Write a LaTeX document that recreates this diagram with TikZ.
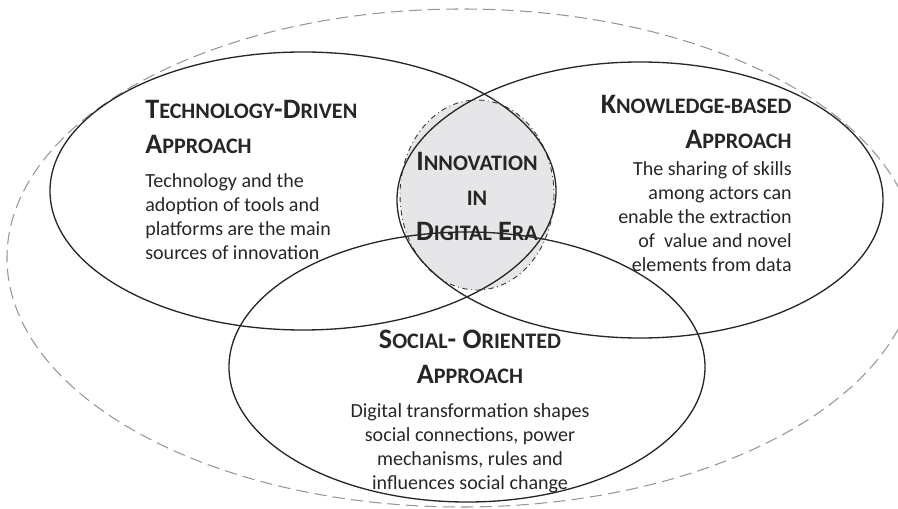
\documentclass[tikz,border=0pt]{standalone}
\usepackage{fontspec}
\setmainfont{Carlito}
\usetikzlibrary{positioning}
\definecolor{lensgray}{RGB}{230,230,232}
\definecolor{dashgray}{RGB}{150,150,150}
\newcommand{\smallcap}[1]{{\fontsize{12.6}{19.9}\selectfont #1}}

\begin{document}
\begin{tikzpicture}[x=0.02cm, y=-0.02cm,
  outline/.style={draw=black!85, line width=0.75pt},
  headtext/.style={font=\fontsize{16}{19.9}\selectfont\bfseries, inner sep=0pt, text=black!85},
  bodytext/.style={font=\fontsize{11.4}{13.65}\selectfont, inner sep=0pt, text=black!85}
]
  \useasboundingbox (0,0) rectangle (898,509);
  \clip (0,0) rectangle (898,509);

  % outer frame
  \draw[dashgray, line width=0.6pt, dash pattern=on 7pt off 3.5pt] (462,258) ellipse [x radius=455, y radius=249];

  % core
  \fill[lensgray] (477,195) ellipse [x radius=77, y radius=95];
  \draw[black!80, line width=0.5pt, dash dot] (477,195) ellipse [x radius=77, y radius=95];

  % the three approaches
  \draw[outline] (303,191) ellipse [x radius=253, y radius=139];
  \draw[outline] (640,200) ellipse [x radius=243, y radius=138];
  \draw[outline] (467,367) ellipse [x radius=238, y radius=135];

  \node[headtext, anchor=north west, align=left] (techhead) at (145,100)
    {T\smallcap{ECHNOLOGY}-D\smallcap{RIVEN}\\A\smallcap{PPROACH}};
  \node[bodytext, below=0.38cm of techhead.south west, anchor=north west, align=left] (techbody)
    {Technology and the\\adoption of tools and\\platforms are the main\\sources of innovation};

  \node[headtext, anchor=north east, align=right] (knowhead) at (792,95)
    {K\smallcap{NOWLEDGE-BASED}\\A\smallcap{PPROACH}};
  \node[bodytext, below=0.25cm of knowhead.south east, anchor=north east, align=right] (knowbody)
    {The sharing of skills\\among actors can\\enable the extraction\\of\ \ value and novel\\elements from data};

  \node[headtext, anchor=north, align=center] (sochead) at (470,330)
    {S\smallcap{OCIAL}- O\smallcap{RIENTED}\\A\smallcap{PPROACH}};
  \node[bodytext, below=0.38cm of sochead.south, align=center] (socbody)
    {Digital transformation shapes\\social connections, power\\mechanisms, rules and\\influences social change};

  \node[headtext, anchor=north, align=center] (corehead) at (477,152)
    {I\smallcap{NNOVATION}\\\smallcap{IN}\\D\smallcap{IGITAL} E\smallcap{RA}};
\end{tikzpicture}
\end{document}
